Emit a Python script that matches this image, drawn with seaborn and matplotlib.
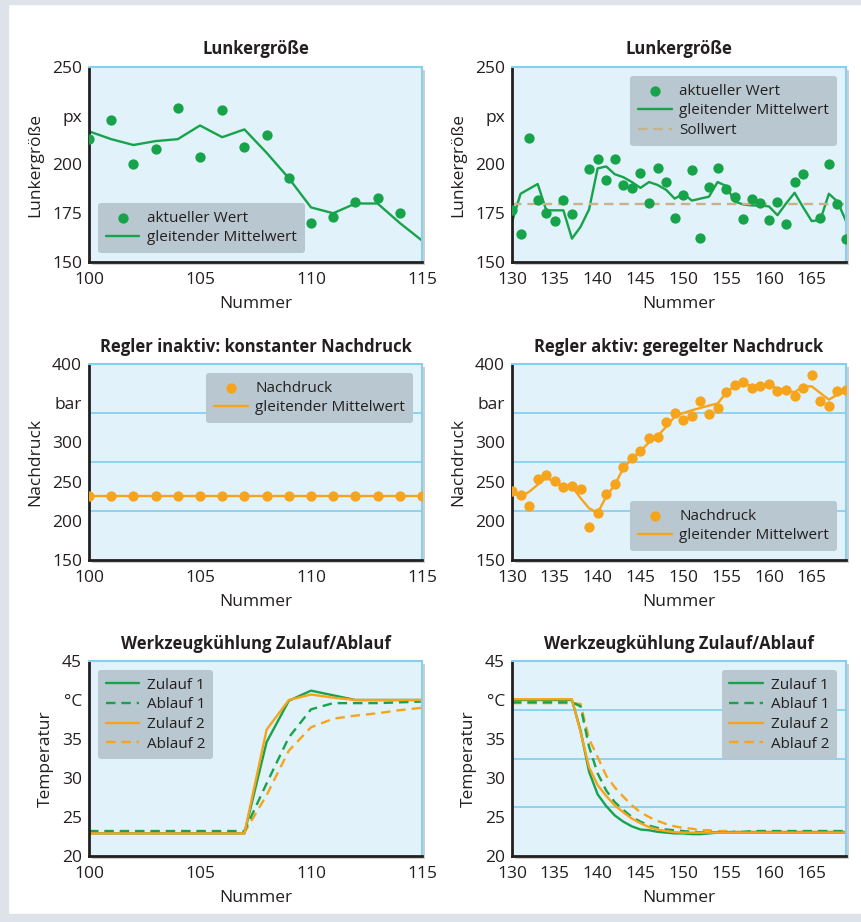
import numpy as np
import pandas as pd
import matplotlib
matplotlib.use("Agg")
import matplotlib.pyplot as plt
import matplotlib.patheffects as pe
from matplotlib.patches import Rectangle
import seaborn as sns

# Werte
nr_a = list(range(100, 116))
nr_b = list(range(130, 170))

lunker_a = [213, 223, 200, 208, 229, 204, 228, 209, 215, 193, 170, 173, 181, 183, 175, np.nan]
lunker_a_mittel = [217, 213, 210, 212, 213, 220, 214, 218, 206, 193, 178, 175, 180, 180, 170, 161]

lunker_b = [176.5, 164.5, 213.5, 182, 175, 171, 182, 174.5, np.nan, 197.5,
            203, 192, 203, 189.5, 188, 195.5, 180.5, 198, 191, 172.5,
            184.5, 197, 162.5, 188.5, 198, 187.5, 183.5, 172, 182.5, 180.5,
            171.5, 181, 169.5, 191, 195, np.nan, 172.5, 200.5, 180, 162]
lunker_b_mittel = [170.5, 185, 187.5, 190, 176.5, 176.5, 176.5, 162, 168, 177,
                   198, 199, 195, 193.5, 191, 188, 191, 189.5, 187, 182.5,
                   185, 181.5, 182.5, 183.5, 191, 189, 181, 179.5, 179, 179,
                   178.5, 174, 180, 185.5, 178, 171, 171.5, 185, 181, 171]
sollwert = 180

druck_a = [232] * 16
druck_a_mittel = [232] * 16

druck_b = [237.5, 233, 219, 253, 258, 251, 242.5, 245, 240.5, 192,
           210, 234.5, 247.5, 269, 280, 289, 305, 306.5, 326, 337.5,
           329, 333.5, 352.5, 336.5, 343.5, 364.5, 373, 377, 369, 372.5,
           374, 366, 366.5, 359, 369, 386, 352.5, 346, 366, 366.5]
druck_b_mittel = [236, 231, 237, 246, 255, 249, 244, 244, 229, 216,
                  210, 231, 246, 267, 279, 289, 300, 308, 320, 333,
                  337.5, 341, 344, 347, 349.5, 363, 372.5, 374.5, 372.5, 373,
                  373, 369, 366.5, 364, 371.5, 371.5, 363, 354.5, 361, 365]

zulauf1_a = [22.9] * 8 + [34.6, 39.9, 41.2, 40.6, 40.0, 40.0, 40.0, 40.0]
ablauf1_a = [23.2] * 8 + [29.3, 35.2, 38.8, 39.6, 39.6, 39.6, 39.7, 39.8]
zulauf2_a = [22.9] * 8 + [36.2, 40.0, 40.7, 40.3, 40.0, 40.0, 40.0, 40.0]
ablauf2_a = [23.0] * 8 + [27.8, 33.5, 36.5, 37.6, 38.0, 38.3, 38.7, 39.0]

zulauf1_b = [40.0] * 8 + [36.1, 30.8, 27.9, 26.4, 25.2, 24.4, 23.8, 23.4, 23.3, 23.1,
                          23.0, 22.9, 22.9, 22.8, 22.8, 22.9, 23.0] + [23.0] * 15
zulauf2_b = [40.1] * 8 + [35.9, 31.4, 29.1, 27.7, 26.5, 25.6, 24.8, 24.2, 23.7, 23.4,
                          23.2, 23.05, 23.0, 23.0, 23.0, 23.0, 23.0] + [23.0] * 15
ablauf1_b = [39.7] * 8 + [39.2, 34.0, 30.6, 28.4, 26.9, 25.9, 25.0, 24.4, 23.9, 23.6,
                          23.4, 23.3, 23.2, 23.1, 23.05, 23.05, 23.05, 23.05, 23.1, 23.1,
                          23.2] + [23.2] * 11
ablauf2_b = [39.6] * 8 + [39.5, 35.0, 32.7, 30.3, 28.8, 27.6, 26.5, 25.6, 25.0, 24.5,
                          24.1, 23.8, 23.6, 23.5, 23.3, 23.3, 23.2, 23.2] + [23.1] * 14

gruen = '#16a34a'
orange = '#f7a41d'
soll_farbe = '#c9b18d'
text_farbe = '#231f20'

sns.set_theme(style='white')
plt.rcParams['font.family'] = ['Open Sans', 'DejaVu Sans']
plt.rcParams['text.color'] = text_farbe
plt.rcParams['axes.labelcolor'] = text_farbe
plt.rcParams['xtick.color'] = text_farbe
plt.rcParams['ytick.color'] = text_farbe

fig = plt.figure(figsize=(8.62, 9.22), dpi=100)
fig.patch.set_facecolor('white')
# grauer Rahmen
rahmen = '#dde3e9'
fig.patches.append(Rectangle((0, 0), 8 / 862, 1, transform=fig.transFigure, color=rahmen, zorder=-5))
fig.patches.append(Rectangle((0, 1 - 4 / 922), 1, 4 / 922, transform=fig.transFigure, color=rahmen, zorder=-5))
fig.patches.append(Rectangle((0, 0), 1, 8 / 922, transform=fig.transFigure, color=rahmen, zorder=-5))

W, H = 862, 922
def make_ax(x0, x1, y0, y1):
    return fig.add_axes([x0 / W, 1 - y1 / H, (x1 - x0) / W, (y1 - y0) / H])

ax1 = make_ax(89, 422, 67, 262)
ax2 = make_ax(512, 846, 67, 262)
ax3 = make_ax(89, 422, 364, 560)
ax4 = make_ax(512, 846, 364, 560)
ax5 = make_ax(89, 422, 661, 856)
ax6 = make_ax(512, 846, 661, 856)


def style(ax, title, ylabel, xlim, xticks, ylim, yticks, ylabels, grid):
    ax.set_facecolor('#e1f2fa')
    ax.patch.set_path_effects([pe.withSimplePatchShadow(offset=(2.5, -2.5), shadow_rgbFace='0.45', alpha=0.35)])
    ax.set_xlim(*xlim)
    ax.set_ylim(*ylim)
    ax.set_xticks(xticks)
    ax.set_xticklabels([str(t) for t in xticks])
    ax.set_yticks(yticks)
    ax.set_yticklabels(ylabels)
    ax.set_yticks(grid, minor=True)
    ax.grid(False)
    ax.grid(True, which='minor', axis='y', color='#86d0ee', lw=1.3)
    ax.tick_params(axis='x', which='major', direction='in', color='#7cc9ec', length=6, width=1.5,
                   labelsize=12.5, pad=7)
    ax.tick_params(axis='y', which='both', length=0, labelsize=12.5, pad=5)
    for s in ['left', 'bottom']:
        ax.spines[s].set_color(text_farbe)
        ax.spines[s].set_linewidth(2)
    for s in ['top', 'right']:
        ax.spines[s].set_color('#86d0ee')
        ax.spines[s].set_linewidth(1.5)
    ax.set_title(title, fontsize=12, fontweight='bold', pad=9)
    ax.set_xlabel('Nummer', fontsize=12.5, labelpad=6)
    ax.set_ylabel(ylabel, fontsize=12.5, labelpad=6)


def legende(ax, loc, order=None):
    h, l = ax.get_legend_handles_labels()
    if order is not None:
        idx = [l.index(n) for n in order]
        h, l = [h[i] for i in idx], [l[i] for i in idx]
    ax.legend(h, l, loc=loc, frameon=True, facecolor='#b8c7d0', edgecolor='none', framealpha=1,
              fontsize=11, handlelength=2.2, borderpad=0.5, labelspacing=0.3, handletextpad=0.5,
              borderaxespad=0.6)


punkt = dict(s=55, linewidth=0, zorder=4)

# Lunkergröße
sns.scatterplot(x=nr_a, y=lunker_a, color=gruen, label='aktueller Wert', ax=ax1, **punkt)
sns.lineplot(x=nr_a, y=lunker_a_mittel, color=gruen, lw=1.7, label='gleitender Mittelwert', ax=ax1)
style(ax1, 'Lunkergröße', 'Lunkergröße', (100, 115), [100, 105, 110, 115], (150, 250),
      [150, 175, 200, 225, 250], ['150', '175', '200', 'px', '250'], [175, 200, 225])
legende(ax1, 'lower left')

sns.scatterplot(x=nr_b, y=lunker_b, color=gruen, label='aktueller Wert', ax=ax2, **punkt)
sns.lineplot(x=nr_b, y=lunker_b_mittel, color=gruen, lw=1.7, label='gleitender Mittelwert', ax=ax2)
ax2.axhline(sollwert, color=soll_farbe, lw=1.7, ls=(0, (4, 2.5)), label='Sollwert', zorder=2)
style(ax2, 'Lunkergröße', 'Lunkergröße', (130, 169), [130, 135, 140, 145, 150, 155, 160, 165], (150, 250),
      [150, 175, 200, 225, 250], ['150', '175', '200', 'px', '250'], [175, 200, 225])
legende(ax2, 'upper right')

# Nachdruck
sns.scatterplot(x=nr_a, y=druck_a, color=orange, label='Nachdruck', ax=ax3, **punkt)
sns.lineplot(x=nr_a, y=druck_a_mittel, color=orange, lw=1.7, label='gleitender Mittelwert', ax=ax3)
style(ax3, 'Regler inaktiv: konstanter Nachdruck', 'Nachdruck', (100, 115), [100, 105, 110, 115], (150, 400),
      [150, 200, 250, 300, 350, 400], ['150', '200', '250', '300', 'bar', '400'], [212.5, 275, 337.5])
legende(ax3, 'upper right')

sns.scatterplot(x=nr_b, y=druck_b, color=orange, label='Nachdruck', ax=ax4, **punkt)
sns.lineplot(x=nr_b, y=druck_b_mittel, color=orange, lw=1.7, label='gleitender Mittelwert', ax=ax4)
style(ax4, 'Regler aktiv: geregelter Nachdruck', 'Nachdruck', (130, 169), [130, 135, 140, 145, 150, 155, 160, 165],
      (150, 400), [150, 200, 250, 300, 350, 400], ['150', '200', '250', '300', 'bar', '400'], [212.5, 275, 337.5])
legende(ax4, 'lower right')

# Werkzeugkühlung
for ax, nr, z1, a1, z2, a2 in [(ax5, nr_a, zulauf1_a, ablauf1_a, zulauf2_a, ablauf2_a),
                               (ax6, nr_b, zulauf1_b, ablauf1_b, zulauf2_b, ablauf2_b)]:
    sns.lineplot(x=nr, y=a2, color=orange, lw=1.7, ls=(0, (4, 2.5)), label='Ablauf 2', ax=ax)
    sns.lineplot(x=nr, y=a1, color=gruen, lw=1.7, ls=(0, (4, 2.5)), label='Ablauf 1', ax=ax)
    sns.lineplot(x=nr, y=z1, color=gruen, lw=1.7, label='Zulauf 1', ax=ax)
    sns.lineplot(x=nr, y=z2, color=orange, lw=1.7, label='Zulauf 2', ax=ax)

style(ax5, 'Werkzeugkühlung Zulauf/Ablauf', 'Temperatur', (100, 115), [100, 105, 110, 115], (20, 45),
      [20, 25, 30, 35, 40, 45], ['20', '25', '30', '35', '°C', '45'], [25, 30, 35, 40])
style(ax6, 'Werkzeugkühlung Zulauf/Ablauf', 'Temperatur', (130, 169), [130, 135, 140, 145, 150, 155, 160, 165],
      (20, 45), [20, 25, 30, 35, 40, 45], ['20', '25', '30', '35', '°C', '45'], [26.25, 32.5, 38.75])

reihenfolge = ['Zulauf 1', 'Ablauf 1', 'Zulauf 2', 'Ablauf 2']
legende(ax5, 'upper left', reihenfolge)
legende(ax6, 'upper right', reihenfolge)

fig.savefig('out.png', dpi=100)
